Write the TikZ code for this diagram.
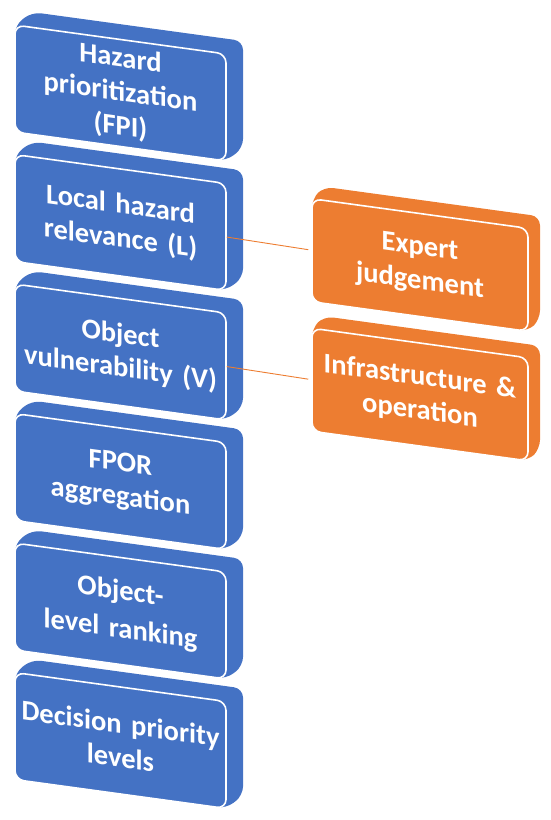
\documentclass[tikz,border=0pt]{standalone}
\usepackage{fontspec}
\setmainfont{Carlito}
\definecolor{offblue}{HTML}{4472C4}
\definecolor{offorange}{HTML}{ED7D31}
\tikzset{
  face/.style={draw=white, line width=1.6pt, rounded corners=9pt, text=white,
    font=\fontsize{28.5}{34}\selectfont\bfseries, align=center, inner sep=0pt, transform shape},
  bluebox/.style={face, fill=offblue, minimum width=211pt, minimum height=107pt, text width=209pt},
  orbox/.style={face, fill=offorange, minimum width=216pt, minimum height=103pt, text width=214pt},
  link/.style={draw=offorange, line width=0.9pt, shorten >=3pt},
}
% extruded back part: x0, top, x1, bottom, dx, dy(up), colour
\newcommand\extrud[7]{\path[fill=#7, rounded corners=9pt] (#1,#2) -- (#1+#5,#2-#6) -- (#3+#5,#2-#6) -- (#3+#5,#4-#6) -- (#3,#4) -- (#1,#4) -- cycle;}
\begin{document}
\begin{tikzpicture}[x=1pt, y=-1pt]
\useasboundingbox (0,0) rectangle (550,820);
\begin{scope}[yslant=-0.137]
  % blue column
  \extrud{15}{23}{226}{130}{17}{15.3}{offblue}
  \node[bluebox] (b1) at (120.5,76.5) {Hazard\\prioritization\\(FPI)};
  \extrud{15}{152.5}{226}{259.5}{17}{15.3}{offblue}
  \node[bluebox] (b2) at (120.5,206) {Local hazard\\relevance (L)};
  \extrud{15}{282}{226}{389}{17}{15.3}{offblue}
  \node[bluebox] (b3) at (120.5,335.5) {Object\\vulnerability (V)};
  \extrud{15}{411.5}{226}{518.5}{17}{15.3}{offblue}
  \node[bluebox] (b4) at (120.5,465) {FPOR\\aggregation};
  \extrud{15}{541}{226}{648}{17}{15.3}{offblue}
  \node[bluebox] (b5) at (120.5,594.5) {Object-\\[4pt]level ranking};
  \extrud{15}{670.5}{226}{777.5}{17}{15.3}{offblue}
  \node[bluebox] (b6) at (120.5,724) {Decision priority\\levels};
  % orange column
  \extrud{312}{156}{528}{259}{12}{13.6}{offorange}
  \node[orbox] (o1) at (420,207.5) {Expert\\judgement};
  \extrud{312}{285.5}{528}{388.5}{12}{13.6}{offorange}
  \node[orbox] (o2) at (420,337) {Infrastructure \&\\operation};
  % connectors
  \draw[link] (b2.east) -- (o1.west);
  \draw[link] (b3.east) -- (o2.west);
\end{scope}
\end{tikzpicture}
\end{document}
